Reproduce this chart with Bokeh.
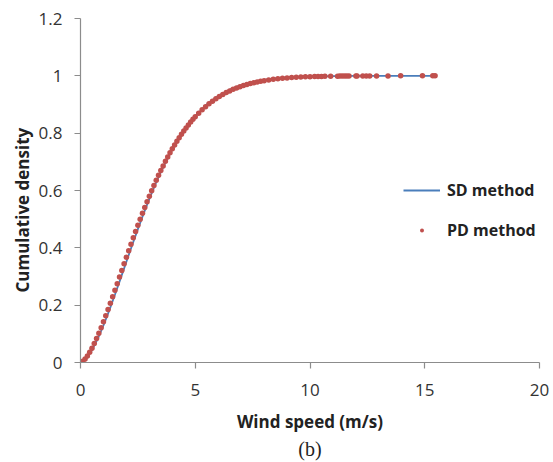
from bokeh.plotting import figure
from bokeh.models import ColumnDataSource, Range1d, Legend, LegendItem, Title, FixedTicker
from bokeh.embed import file_html
from bokeh.resources import INLINE

# ---- data ----
pd_speed = [0.0, 0.1, 0.2, 0.3, 0.4, 0.5, 0.6, 0.7, 0.8, 0.9,
            1.0, 1.1, 1.2, 1.3, 1.4, 1.5, 1.6, 1.7, 1.8, 1.9,
            2.0, 2.1, 2.2, 2.3, 2.4, 2.5, 2.6, 2.7, 2.8, 2.9,
            3.0, 3.1, 3.2, 3.3, 3.4, 3.5, 3.6, 3.7, 3.8, 3.9,
            4.0, 4.1, 4.2, 4.3, 4.4, 4.5, 4.6, 4.7, 4.8, 4.9,
            5.0, 5.15, 5.3, 5.45, 5.6, 5.75, 5.9, 6.05, 6.2, 6.35,
            6.5, 6.65, 6.8, 6.95, 7.1, 7.25, 7.4, 7.55, 7.7, 7.85,
            8.0, 8.2, 8.4, 8.6, 8.8, 9.0, 9.2, 9.4, 9.6, 9.8,
            10.0, 10.2, 10.35, 10.5, 10.65, 10.9, 11.2, 11.3, 11.4, 11.5,
            11.6, 11.7, 12.0, 12.05, 12.3, 12.45, 12.6, 12.9, 13.4, 13.95,
            14.9, 15.35, 15.45]
pd_cdf = [0.0, 0.004, 0.012, 0.0226, 0.0354, 0.0499, 0.066, 0.0834, 0.102, 0.1216,
          0.1419, 0.163, 0.1846, 0.2068, 0.2293, 0.2521, 0.275, 0.2981, 0.3212, 0.3443,
          0.3672, 0.39, 0.4126, 0.4348, 0.4568, 0.4785, 0.4997, 0.5206, 0.541, 0.5609,
          0.5803, 0.5993, 0.6177, 0.6355, 0.6529, 0.6697, 0.6859, 0.7016, 0.7168, 0.7313,
          0.7454, 0.7589, 0.7718, 0.7842, 0.7961, 0.8075, 0.8184, 0.8288, 0.8387, 0.8482,
          0.8571, 0.8699, 0.8816, 0.8925, 0.9025, 0.9117, 0.9202, 0.928, 0.935, 0.9415,
          0.9474, 0.9528, 0.9577, 0.9622, 0.9662, 0.9698, 0.9731, 0.9761, 0.9787, 0.9811,
          0.9832, 0.9858, 0.9879, 0.9898, 0.9914, 0.9927, 0.9939, 0.9949, 0.9957, 0.9964,
          0.997, 0.9975, 0.9978, 0.9981, 0.9983, 0.9986, 0.9989, 0.999, 0.9991, 0.9992,
          0.9992, 0.9993, 0.9994, 0.9995, 0.9996, 0.9996, 0.9997, 0.9997, 0.9998, 0.9999,
          1.0, 1.0, 1.0]

sd_speed = [0.0, 0.25, 0.5, 0.75, 1.0, 1.25, 1.5, 1.75, 2.0, 2.25,
            2.5, 2.75, 3.0, 3.25, 3.5, 3.75, 4.0, 4.25, 4.5, 4.75,
            5.0, 5.5, 6.0, 6.5, 7.0, 7.5, 8.0, 8.5, 9.0, 9.5,
            10.0, 11.0, 12.0, 13.0, 14.0, 15.45]
sd_cdf = [0.0, 0.0139, 0.043, 0.0823, 0.129, 0.1809, 0.2363, 0.2936, 0.3517, 0.4092,
          0.4654, 0.5194, 0.5708, 0.6192, 0.6641, 0.7055, 0.7433, 0.7775, 0.8083, 0.8356,
          0.8598, 0.8997, 0.9297, 0.9517, 0.9673, 0.9784, 0.986, 0.9911, 0.9944, 0.9965,
          0.9979, 0.9992, 0.9997, 0.9999, 1.0, 1.0]

x_ticks = [0, 5, 10, 15, 20]
y_ticks = [0, 0.2, 0.4, 0.6, 0.8, 1.0, 1.2]
y_tick_labels = {0: "0", 0.2: "0.2", 0.4: "0.4", 0.6: "0.6", 0.8: "0.8", 1.0: "1", 1.2: "1.2"}

series_names = ["SD method", "PD method"]
x_title = "Wind speed (m/s)"
y_title = "Cumulative density"
panel_tag = "(b)"

# ---- figure ----
p = figure(width=553, height=462, output_backend="svg", toolbar_location=None,
           x_range=Range1d(0, 20), y_range=Range1d(0, 1.2),
           min_border_left=80, min_border_right=14, min_border_top=18, min_border_bottom=100)
p.outline_line_color = None
p.grid.visible = False
p.background_fill_color = "white"
p.border_fill_color = "white"

sd_src = ColumnDataSource(dict(x=sd_speed, y=sd_cdf))
pd_src = ColumnDataSource(dict(x=pd_speed, y=pd_cdf))

line_r = p.line("x", "y", source=sd_src, line_color="#4A7EBB", line_width=1.8)
dot_r = p.scatter("x", "y", source=pd_src, size=5.5, fill_color="#C0504D",
                  line_color="#C0504D", line_width=0)
# key marker for the legend only (its single point is NaN, so nothing is plotted)
key_src = ColumnDataSource(dict(x=[float("nan")], y=[float("nan")]))
key_r = p.scatter("x", "y", source=key_src, size=4, fill_color="#C0504D",
                  line_color="#C0504D", line_width=0)

axis_col = "#8C8C8C"
tick_font = "Open Sans"
for ax in (p.xaxis[0], p.yaxis[0]):
    ax.axis_line_color = axis_col
    ax.major_tick_line_color = axis_col
    ax.minor_tick_line_color = None
    ax.major_tick_out = 6
    ax.major_tick_in = 0
    ax.major_label_text_font = tick_font
    ax.major_label_text_font_size = "17px"
    ax.major_label_text_color = "#333333"
    ax.axis_line_width = 1.2
    ax.major_tick_line_width = 1.2

p.xaxis[0].ticker = FixedTicker(ticks=x_ticks)
p.yaxis[0].ticker = FixedTicker(ticks=y_ticks)
p.yaxis[0].major_label_overrides = y_tick_labels
p.xaxis[0].major_label_standoff = 15
p.yaxis[0].major_label_standoff = 12

# x title as the axis label
p.xaxis[0].axis_label = x_title
p.xaxis[0].axis_label_text_font = "Open Sans"
p.xaxis[0].axis_label_text_font_style = "bold"
p.xaxis[0].axis_label_text_font_size = "17px"
p.xaxis[0].axis_label_text_color = "#222222"
p.xaxis[0].axis_label_standoff = 11

# panel tag below
p.add_layout(Title(text=panel_tag, align="center", text_font="Liberation Serif",
                   text_font_size="20px", text_font_style="normal", text_color="#222222",
                   standoff=0), "below")

# y title on the left, starting 70px above the frame bottom
p.add_layout(Title(text=y_title, align="left", offset=70, text_font="Open Sans",
                   text_font_size="17px", text_font_style="bold", text_color="#222222",
                   standoff=4), "left")

legend = Legend(items=[LegendItem(label=series_names[0], renderers=[line_r]),
                       LegendItem(label=series_names[1], renderers=[key_r])],
                location=(323, 121), padding=0, margin=0, spacing=18,
                glyph_width=37, glyph_height=10, label_height=20, label_standoff=7,
                label_text_font="Open Sans", label_text_font_style="bold",
                label_text_font_size="16px", label_text_color="#222222",
                border_line_color=None, background_fill_alpha=0)
p.add_layout(legend, "center")

open("out.html", "w").write(file_html(p, INLINE))
